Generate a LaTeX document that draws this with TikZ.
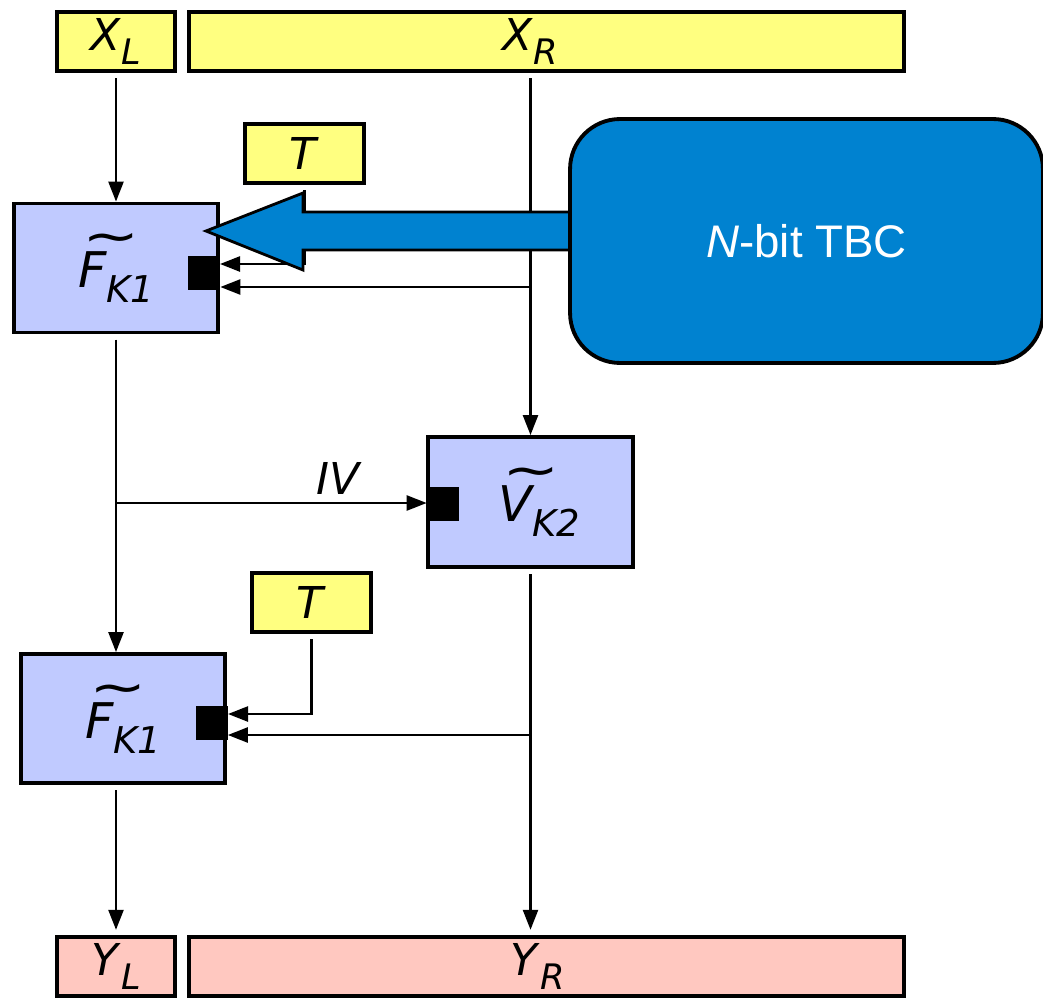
\documentclass[tikz,border=0pt]{standalone}
\usepackage{graphicx}
\usepackage{fontspec}
\setmainfont{DejaVu Sans}
\newfontfamily\tbcfont{Liberation Sans}
\usetikzlibrary{arrows.meta}

\definecolor{inyellow}{RGB}{255,255,128}
\definecolor{outpink}{RGB}{255,200,192}
\definecolor{fnblue}{RGB}{192,202,255}
\definecolor{tbcblue}{RGB}{0,130,208}

% letter with a lowered subscript
\newcommand\subl[2]{\textit{#1}\raisebox{-0.33em}{\fontsize{20}{20}\selectfont\textit{#2}}}
% tweaked function with a tilde
\newcommand\tfun[2]{{\fontsize{28}{32}\selectfont\itshape
  \makebox[0pt][l]{\hspace{2.5pt}\raisebox{19.5pt}{\fontsize{26}{26}\selectfont\scalebox{1.5}[1.1]{\textasciitilde}}}#1%
  \raisebox{-0.3em}{\fontsize{21}{21}\selectfont #2}}}

\begin{document}
\begin{tikzpicture}[
  x=0.02cm,y=-0.02cm,
  blk/.style={draw,line width=2.2pt,inner sep=0pt,font=\fontsize{25}{30}\selectfont},
  inp/.style={blk,fill=inyellow,minimum height=1.18cm},
  outp/.style={blk,fill=outpink,minimum height=1.18cm},
  fn/.style={blk,fill=fnblue,minimum width=4.08cm,minimum height=2.58cm},
  port/.style={fill=black,inner sep=0pt,minimum width=0.64cm,minimum height=0.68cm},
  arr/.style={line width=1.4pt,-{Triangle[length=0.4cm,width=0.3cm]}},
  gap/.style={shorten <=3pt}
]
\useasboundingbox (0,0) rectangle (1043,1000);

% Inputs
\node[inp,minimum width=2.36cm] (XL) at (116,41.5) {\subl{X}{L}};
\node[inp,minimum width=14.30cm,label={[xshift=-0.33cm,font=\fontsize{25}{30}\selectfont]center:\subl{X}{R}}] (XR) at (546.5,41.5) {};

% Tweaks
\node[inp,minimum width=2.38cm] (T1) at (304.5,153.5) {\textit{T}};
\node[inp,minimum width=2.38cm] (T2) at (311.5,602.5) {\textit{T}};

% Rounds
\node[fn] (F1) at (116,268) {\tfun{F}{K1}};
\node[fn,minimum width=4.10cm,minimum height=2.60cm] (V) at (530.5,502) {\hspace*{0.35cm}\tfun{V}{K2}};
\node[fn] (F2) at (123,718.5) {\tfun{F}{K1}};

% Key ports
\node[port] (p1) at (204,273) {};
\node[port] (pv) at (443,504) {};
\node[port] (p2) at (211.5,722.5) {};

% Outputs
\node[outp,minimum width=2.36cm] (YL) at (116,966.5) {\subl{Y}{L}};
\node[outp,minimum width=14.30cm,label={[xshift=-0.17cm,font=\fontsize{25}{30}\selectfont]center:\subl{Y}{R}}] (YR) at (546.5,966.5) {};

% Junctions
\coordinate (j1) at (530.5,287);
\coordinate (j2) at (116,503);
\coordinate (j3) at (530.5,735);
\coordinate (t1in) at (220,264);
\coordinate (t2in) at (228,714);

% Connectors
\draw[arr,gap] (XL.south) -- (XL.south |- F1.north);
\draw[arr,gap] (XR.south -| V.north) -- (V.north);
\draw[arr] (j1) -- (j1 -| p1.east);
\draw[arr,gap] (T1.south) |- (t1in);
\draw[arr,gap] (F1.south) -- (F1.south |- F2.north);
\draw[arr] (j2) -- (j2 -| pv.west) node[pos=0.72,above=1pt,font=\fontsize{25}{30}\selectfont] {\textit{IV}};
\draw[arr,gap] (T2.south) |- (t2in);
\draw[arr] (j3) -- (j3 -| p2.east);
\draw[arr,gap,shorten >=3pt] (V.south) -- (V.south |- YR.north);
\draw[arr,gap,shorten >=3pt] (YL.north |- F2.south) -- (YL.north);

% Key from the TBC
\draw[line width=1.6pt,fill=tbcblue] (600,212) -- (303,212) -- (303,193) -- (206,231)
  -- (303,270) -- (303,250) -- (600,250);
\node[draw,line width=2.2pt,fill=tbcblue,rounded corners=1cm,minimum width=9.46cm,minimum height=4.88cm,
  text=white,font=\tbcfont\fontsize{26}{30}\selectfont] (tbc) at (806.5,241) {\textit{N}-bit TBC};
\end{tikzpicture}
\end{document}
